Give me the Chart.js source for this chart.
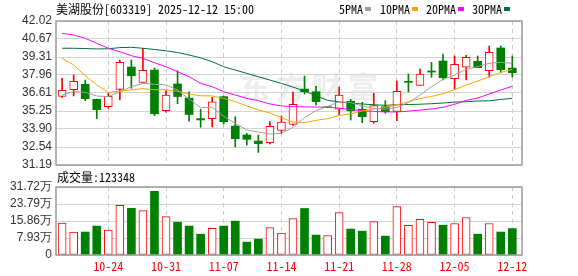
<!DOCTYPE html>
<html><head><meta charset="utf-8">
<script src="https://cdn.jsdelivr.net/npm/chart.js"></script>
<style>
html,body{margin:0;padding:0;background:#fff;}
#wrap{position:relative;width:578px;height:276px;overflow:hidden;background:#fff;}
canvas{position:absolute;left:0;}
#pc{top:0;}
#vc{top:168px;}
.t{position:absolute;font-size:12px;font-family:"Noto Sans Mono CJK SC","Noto Sans CJK SC","DejaVu Sans Mono",monospace;color:#000;white-space:nowrap;line-height:14px;}
.sq{position:absolute;width:6px;height:4px;}
</style></head>
<body><div id="wrap">
<canvas id="pc" width="578" height="178" style="width:578px;height:178px"></canvas>
<canvas id="vc" width="578" height="108" style="width:578px;height:108px"></canvas>
<div class="t" id="title" style="left:56px;top:2px;"></div>
<div class="t" id="volLbl" style="left:57px;top:170px;"></div>
</div>
<script>
// ---------- data ----------
const stockName = '美湖股份[603319] 2025-12-12 15:00';
const volLabel = '成交量:123348';
const dates = ['10-20','10-21','10-22','10-23','10-24','10-27','10-28','10-29','10-30','10-31',
  '11-03','11-04','11-05','11-06','11-07','11-10','11-11','11-12','11-13','11-14',
  '11-17','11-18','11-19','11-20','11-21','11-24','11-25','11-26','11-27','11-28',
  '12-01','12-02','12-03','12-04','12-05','12-08','12-09','12-10','12-11','12-12'];
const tickDates = ['10-24','10-31','11-07','11-14','11-21','11-28','12-05','12-12'];
const openP  = [36.35,36.86,37.26,36.13,35.58,36.88,38.56,37.41,38.33,35.28,37.28,36.22,34.68,34.67,36.33,34.12,33.45,32.99,32.87,33.79,34.25,36.90,36.70,35.50,35.38,35.98,35.38,34.45,35.57,35.22,37.41,37.18,38.18,39.01,37.68,38.54,38.99,38.28,39.99,38.48];
const highP  = [37.71,37.96,37.58,36.15,36.58,39.09,39.09,39.96,38.48,36.78,38.27,36.70,35.38,36.28,36.38,34.82,33.57,33.45,34.45,34.87,36.68,37.88,37.10,35.50,37.05,36.13,35.91,36.58,36.03,37.51,38.03,38.41,38.91,39.54,39.39,39.44,39.39,40.14,40.14,39.39];
const lowP   = [36.28,36.38,36.03,34.67,35.45,36.08,36.96,37.41,34.90,35.16,35.80,34.48,34.03,34.05,34.27,32.57,32.69,32.14,32.77,33.55,34.17,36.53,35.70,35.50,34.95,34.57,34.37,34.33,35.08,34.52,36.68,37.18,37.79,37.58,36.91,37.58,38.51,37.81,38.13,37.81];
const closeP = [36.80,37.48,36.18,35.35,36.35,38.91,37.90,38.31,35.04,36.44,36.34,34.99,34.58,35.95,34.45,33.17,33.12,32.80,34.10,34.42,35.75,36.70,35.95,35.50,36.45,35.27,34.82,35.65,35.20,36.73,37.41,38.03,38.18,37.76,38.76,39.29,38.51,39.66,38.36,38.13];
const volume = [149000,107000,107000,135000,116000,232000,218000,207000,297000,179000,
  153000,135000,97000,124000,135000,158000,60000,74000,128000,102000,
  170000,217000,93000,91000,198000,121000,111000,156000,88000,226000,
  138000,166000,152000,139000,147000,175000,97000,147000,107000,123348];
const ma5  = [36.45,36.72,36.65,36.38,36.33,36.70,37.08,37.33,37.26,37.21,36.83,36.15,35.50,35.53,34.85,34.32,33.82,33.67,33.52,33.57,34.02,34.75,35.28,35.60,35.95,35.88,35.63,35.45,35.38,35.53,35.88,36.45,37.08,37.63,37.96,38.39,38.59,38.84,38.91,38.84];
const ma10 = [39.21,38.71,37.90,37.21,36.65,36.74,36.85,36.93,36.85,36.85,36.74,36.52,36.40,36.38,36.20,35.95,35.63,35.33,35.10,34.75,34.42,34.38,34.55,34.68,34.90,35.05,35.25,35.40,35.52,35.72,35.95,36.18,36.35,36.55,36.85,37.21,37.50,37.83,38.15,38.39];
const ma20 = [41.09,40.97,40.72,40.34,39.97,39.71,39.41,39.21,38.88,38.58,38.21,37.83,37.33,37.08,36.70,36.45,36.20,36.03,35.78,35.63,35.58,35.56,35.55,35.53,35.47,35.35,35.27,35.22,35.18,35.18,35.24,35.32,35.40,35.53,35.75,36.05,36.23,36.53,36.83,37.11];
const ma30 = [39.97,39.97,39.95,39.92,39.93,40.02,40.04,39.97,39.88,39.78,39.65,39.46,39.25,38.96,38.58,38.33,38.08,37.83,37.58,37.33,37.05,36.75,36.40,36.05,35.93,35.85,35.78,35.72,35.68,35.72,35.74,35.76,35.80,35.85,35.92,35.95,36.00,36.02,36.12,36.20];
const maNames  = ['5PMA','10PMA','20PMA','30PMA'];
const maColors = ['#a0a0a0','#f5a500','#ff00ff','#00703c'];
const priceTicks = [31.19,32.54,33.90,35.25,36.61,37.96,39.31,40.67,42.02];
const volTicks = [0,79300,158600,237900,317200];
const volTickLabels = ['0','7.93万','15.86万','23.79万','31.72万'];

// ---------- styling ----------
const RED = '#ff0000', GREEN = '#008000';
const idx = dates.map((d,i)=>i);
const isUp = idx.map(i => closeP[i] > openP[i]);
const volUp = idx.map(i => closeP[i] >= openP[i]);
const tickIdx = tickDates.map(d => dates.indexOf(d));
const XMIN = -0.53, XMAX = 39.84;

document.getElementById('title').textContent = stockName;
document.getElementById('volLbl').textContent = volLabel;
const legX = [339, 380, 426, 472];
const wrap = document.getElementById('wrap');
maNames.forEach((n,k)=>{
  const s = document.createElement('div'); s.className='t'; s.style.left=legX[k]+'px'; s.style.top='2px'; s.textContent=n; wrap.appendChild(s);
  const q = document.createElement('div'); q.className='sq'; q.style.left=(legX[k]+n.length*6+2)+'px'; q.style.top='7px'; q.style.background=maColors[k]; wrap.appendChild(q);
});

const frame = {id:'frame', afterDatasetsDraw(c){
  const a=c.chartArea, x=c.ctx; x.save(); x.strokeStyle='#9a9a9a'; x.lineWidth=1.5;
  x.strokeRect(a.left, a.top, a.right-a.left, a.bottom-a.top); x.restore();
}};
const watermark = {id:'wm', beforeDatasetsDraw(c){
  const x=c.ctx; x.save(); x.fillStyle='rgba(210,210,210,0.4)';
  x.font='bold 30px "Noto Sans CJK SC"'; x.textAlign='left'; x.textBaseline='middle';
  try{ x.letterSpacing='6px'; }catch(e){}
  x.fillText('东方财富', 240, 87); x.restore();
}};

const xCommon = (showTicks) => ({
  type:'linear', min:XMIN, max:XMAX, offset:false,
  grid:{offset:false, color:'#c8c8c8', lineWidth:1, drawTicks:false},
  border:{display:false, dash:[4,4]},
  afterBuildTicks:s=>{ s.ticks = tickIdx.map(v=>({value:v})); },
  ticks: showTicks ? {display:true, autoSkip:false, maxRotation:0, padding:4, color:RED,
     font:{size:12, family:'"Noto Sans Mono CJK SC","Liberation Mono",monospace'},
     callback:v=>dates[v]} : {display:false},
  afterFit: s=>{ s.height = showTicks ? 21 : 0; }
});

new Chart(document.getElementById('pc'), {
  type:'bar',
  data:{datasets:[
    ...maNames.map((n,k)=>({type:'line', label:n, data:idx.map(i=>({x:i,y:[ma5,ma10,ma20,ma30][k][i]})),
      borderColor:maColors[k], borderWidth:1, pointRadius:0, tension:0, fill:false, order:0})),
    {type:'bar', label:'body', grouped:false, order:1, barThickness:8, minBarLength:1,
      data:idx.map(i=>({x:i, y:[openP[i], closeP[i]]})),
      backgroundColor:idx.map(i=>isUp[i]?'#ffffff':GREEN),
      borderColor:idx.map(i=>isUp[i]?RED:GREEN),
      borderWidth:idx.map(i=>isUp[i]?1:0), borderSkipped:false},
    {type:'bar', label:'wick', grouped:false, order:2, barThickness:1,
      data:idx.map(i=>({x:i, y:[lowP[i], highP[i]]})),
      backgroundColor:idx.map(i=>isUp[i]?RED:GREEN), borderWidth:0}
  ]},
  options:{
    responsive:false, animation:false, devicePixelRatio:1,
    layout:{padding:{top:21, right:56, bottom:13, left:0}},
    plugins:{legend:{display:false}, tooltip:{enabled:false}},
    scales:{
      x: xCommon(false),
      y:{type:'linear', min:31.19, max:42.02, position:'left',
        grid:{color:'#d4d4d4', lineWidth:1, drawTicks:false}, border:{display:false},
        afterBuildTicks:s=>{ s.ticks = priceTicks.map(v=>({value:v})); },
        ticks:{autoSkip:false, padding:4, color:'#333', font:{size:12, family:'"Liberation Sans", Arial, sans-serif'},
          callback:v=>v.toFixed(2)},
        afterFit:s=>{ s.width = 56; }}
    }
  },
  plugins:[watermark, frame]
});

new Chart(document.getElementById('vc'), {
  type:'bar',
  data:{datasets:[
    {type:'bar', label:'vol', grouped:false, barThickness:8,
      data:idx.map(i=>({x:i, y:volume[i]})),
      backgroundColor:idx.map(i=>volUp[i]?'#ffffff':GREEN),
      borderColor:idx.map(i=>volUp[i]?RED:GREEN),
      borderWidth:idx.map(i=>volUp[i]?1:0), borderSkipped:false}
  ]},
  options:{
    responsive:false, animation:false, devicePixelRatio:1,
    layout:{padding:{top:19, right:56, bottom:0, left:0}},
    plugins:{legend:{display:false}, tooltip:{enabled:false}},
    scales:{
      x: xCommon(true),
      y:{type:'linear', min:0, max:317200, position:'left',
        grid:{color:'#d4d4d4', lineWidth:1, drawTicks:false}, border:{display:false},
        afterBuildTicks:s=>{ s.ticks = volTicks.map(v=>({value:v})); },
        ticks:{autoSkip:false, padding:4, color:'#333', font:{size:12, family:'"Liberation Sans", Arial, sans-serif'},
          callback:v=>volTickLabels[volTicks.indexOf(v)]},
        afterFit:s=>{ s.width = 56; }}
    }
  },
  plugins:[frame]
});
</script>
</body></html>
